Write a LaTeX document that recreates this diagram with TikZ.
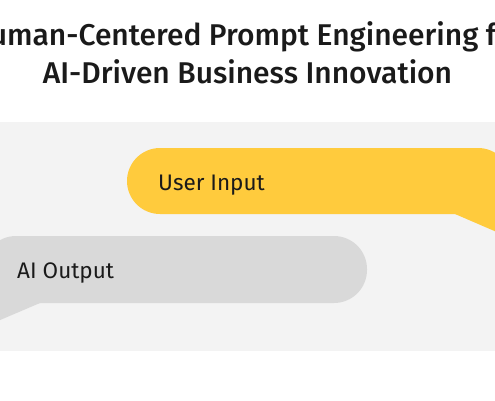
\documentclass[tikz,border=0pt]{standalone}
\usepackage{fontspec}
\setmainfont{Fira Sans}
\newfontfamily\titlefont{Fira Sans Medium}
\usetikzlibrary{positioning}
\definecolor{bubyellow}{HTML}{FFCB3D}
\definecolor{bubgray}{HTML}{D9D9D9}
\definecolor{panelgray}{HTML}{F3F3F3}
\definecolor{inktext}{HTML}{1A1A1A}

\begin{document}
\begin{tikzpicture}[x=1pt,y=-1pt]
\tikzstyle{every node}+=[inner sep=0pt, text=inktext]
\tikzstyle{bubtext}=[anchor=base west, font=\fontsize{22.5}{28}\selectfont]
\tikzstyle{titletext}=[anchor=base, font=\titlefont\fontsize{30}{36}\selectfont]
\useasboundingbox (0,0) rectangle (495,400);
\clip (0,0) rectangle (495,400);
\fill[white] (0,0) rectangle (495,400);
\fill[panelgray] (0,122) rectangle (495,351);
% user bubble
\fill[bubyellow, rounded corners=33pt] (127,148) -- (511,148) -- (511,214) -- (127,214) -- cycle;
\fill[bubyellow] (455,214) -- (500,190) -- (535,248.5) -- cycle;
% ai bubble
\fill[bubgray, rounded corners=33pt] (-17,236) -- (367,236) -- (367,303) -- (-17,303) -- cycle;
\fill[bubgray] (40,303) -- (-5,280) -- (-35,335) -- cycle;
% texts
\node[titletext] (title1) at (247.5,45) {Human-Centered Prompt Engineering for};
\node[titletext] (title2) at (247.5,83) {AI-Driven Business Innovation};
\node[bubtext] (userin) at (158,190) {User Input};
\node[bubtext] (aiout) at (17,278) {AI Output};
\end{tikzpicture}
\end{document}
